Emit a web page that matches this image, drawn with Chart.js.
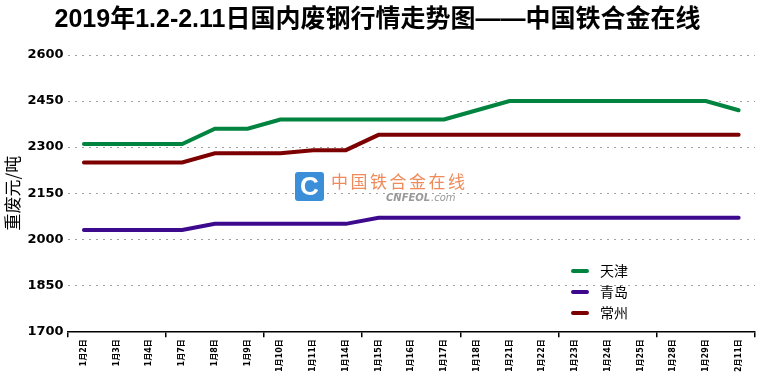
<!DOCTYPE html>
<html>
<head>
<meta charset="utf-8">
<script src="https://cdn.jsdelivr.net/npm/chart.js@4.4.1/dist/chart.umd.min.js"></script>
<style>
  body { margin: 0; background: #fff; }
  #wrap { width: 760px; height: 375px; }
</style>
</head>
<body>
<div id="wrap"><canvas id="steelChart" width="760" height="375"></canvas></div>
<script>
// dates on the x axis
var dates = ['1月2日', '1月3日', '1月4日', '1月7日', '1月8日', '1月9日', '1月10日',
             '1月11日', '1月14日', '1月15日', '1月16日', '1月17日', '1月18日', '1月21日',
             '1月22日', '1月23日', '1月24日', '1月25日', '1月28日', '1月29日', '2月11日'];

// prices, yuan per ton
var tianjin = [2310, 2310, 2310, 2310, 2360, 2360, 2390, 2390, 2390, 2390, 2390,
               2390, 2420, 2450, 2450, 2450, 2450, 2450, 2450, 2450, 2420];
var qingdao = [2030, 2030, 2030, 2030, 2050, 2050, 2050, 2050, 2050, 2070, 2070,
               2070, 2070, 2070, 2070, 2070, 2070, 2070, 2070, 2070, 2070];
var changzhou = [2250, 2250, 2250, 2250, 2280, 2280, 2280, 2290, 2290, 2340, 2340,
                 2340, 2340, 2340, 2340, 2340, 2340, 2340, 2340, 2340, 2340];

var seriesNames = ['天津', '青岛', '常州'];
var yTicks = [1700, 1850, 2000, 2150, 2300, 2450, 2600];

var cjk = "'Noto Sans CJK SC', sans-serif";

// watermark in the middle of the plot
var watermark = {
    id: 'watermark',
    beforeDatasetsDraw: function(chart) {
        var c = chart.ctx;
        c.save();
        // blue logo box
        c.fillStyle = '#3b8fd8';
        c.beginPath();
        c.roundRect(295, 172, 29, 29, 3);
        c.fill();
        c.fillStyle = '#fff';
        c.font = "bold 26px 'Liberation Sans', sans-serif";
        c.textAlign = 'center';
        c.textBaseline = 'middle';
        c.fillText('C', 309.5, 187.5);
        // orange site name
        c.fillStyle = '#f08a5a';
        c.font = '17px ' + cjk;
        c.textAlign = 'left';
        var txt = '中国铁合金在线';
        for (var i = 0; i < txt.length; i++) {
            c.fillText(txt[i], 331 + i * 19.5, 182);
        }
        c.fillStyle = '#9a9a9a';
        c.font = "italic bold 10px 'DejaVu Sans', sans-serif";
        c.fillText('CNFEOL', 386, 198);
        c.font = "italic 10px 'DejaVu Sans', sans-serif";
        c.fillText('.com', 431, 198);
        c.restore();
    }
};

// legend drawn inside the plot area
var innerLegend = {
    id: 'innerLegend',
    afterDraw: function(chart) {
        var c = chart.ctx;
        c.save();
        chart.data.datasets.forEach(function(ds, i) {
            var y = 271 + i * 21;
            c.strokeStyle = ds.borderColor;
            c.lineWidth = 4;
            c.lineCap = 'round';
            c.beginPath();
            c.moveTo(573, y);
            c.lineTo(587, y);
            c.stroke();
            c.fillStyle = '#000';
            c.font = '14px ' + cjk;
            c.textBaseline = 'middle';
            c.fillText(ds.label, 600, y);
        });
        c.restore();
    }
};

var ctx = document.getElementById('steelChart').getContext('2d');
new Chart(ctx, {
    type: 'line',
    data: {
        labels: dates,
        datasets: [{
            label: seriesNames[0],
            data: tianjin,
            borderColor: '#00843f'
        }, {
            label: seriesNames[1],
            data: qingdao,
            borderColor: '#3d0a8e'
        }, {
            label: seriesNames[2],
            data: changzhou,
            borderColor: '#7d0000'
        }]
    },
    options: {
        responsive: false,
        animation: false,
        elements: {
            line: { borderWidth: 4, tension: 0, borderCapStyle: 'round' },
            point: { radius: 0 }
        },
        layout: {
            padding: { left: 0, right: 5, top: 0, bottom: 1 }
        },
        scales: {
            x: {
                offset: true,
                grid: {
                    offset: true,
                    drawOnChartArea: false,
                    tickLength: 6,
                    lineWidth: 1.5,
                    color: function(c) {
                        if (c.type !== 'tick' || c.index % 3 === 0) return '#000';
                        return 'rgba(0,0,0,0)';
                    }
                },
                border: { display: true, color: '#000', width: 1.5 },
                ticks: {
                    autoSkip: false,
                    minRotation: 90,
                    maxRotation: 90,
                    color: '#000',
                    padding: 2,
                    font: { size: 8, weight: 'bold', family: "'DejaVu Sans', 'Noto Sans CJK SC', sans-serif" }
                }
            },
            y: {
                min: yTicks[0],
                max: yTicks[yTicks.length - 1],
                afterBuildTicks: function(axis) {
                    axis.ticks = yTicks.map(function(v) { return { value: v }; });
                },
                grid: {
                    color: '#a0a0a0',
                    lineWidth: 1,
                    drawTicks: false
                },
                border: { display: false, dash: [2, 5] },
                ticks: {
                    color: '#000',
                    padding: 4,
                    callback: function(v) { return String(v); },
                    font: { size: 13, weight: 'bold', family: "'DejaVu Sans', sans-serif" }
                },
                title: {
                    display: true,
                    text: '重废元/吨',
                    color: '#000',
                    padding: { top: 2, bottom: 1 },
                    font: { size: 17, family: cjk }
                }
            }
        },
        plugins: {
            legend: { display: false },
            tooltip: { enabled: false },
            title: {
                display: true,
                text: '2019年1.2-2.11日国内废钢行情走势图——中国铁合金在线',
                color: '#000',
                padding: { top: 5, bottom: 20 },
                font: { size: 25, weight: 'bold', family: "'Liberation Sans', 'Noto Sans CJK SC', sans-serif" }
            }
        }
    },
    plugins: [watermark, innerLegend]
});
</script>
</body>
</html>
